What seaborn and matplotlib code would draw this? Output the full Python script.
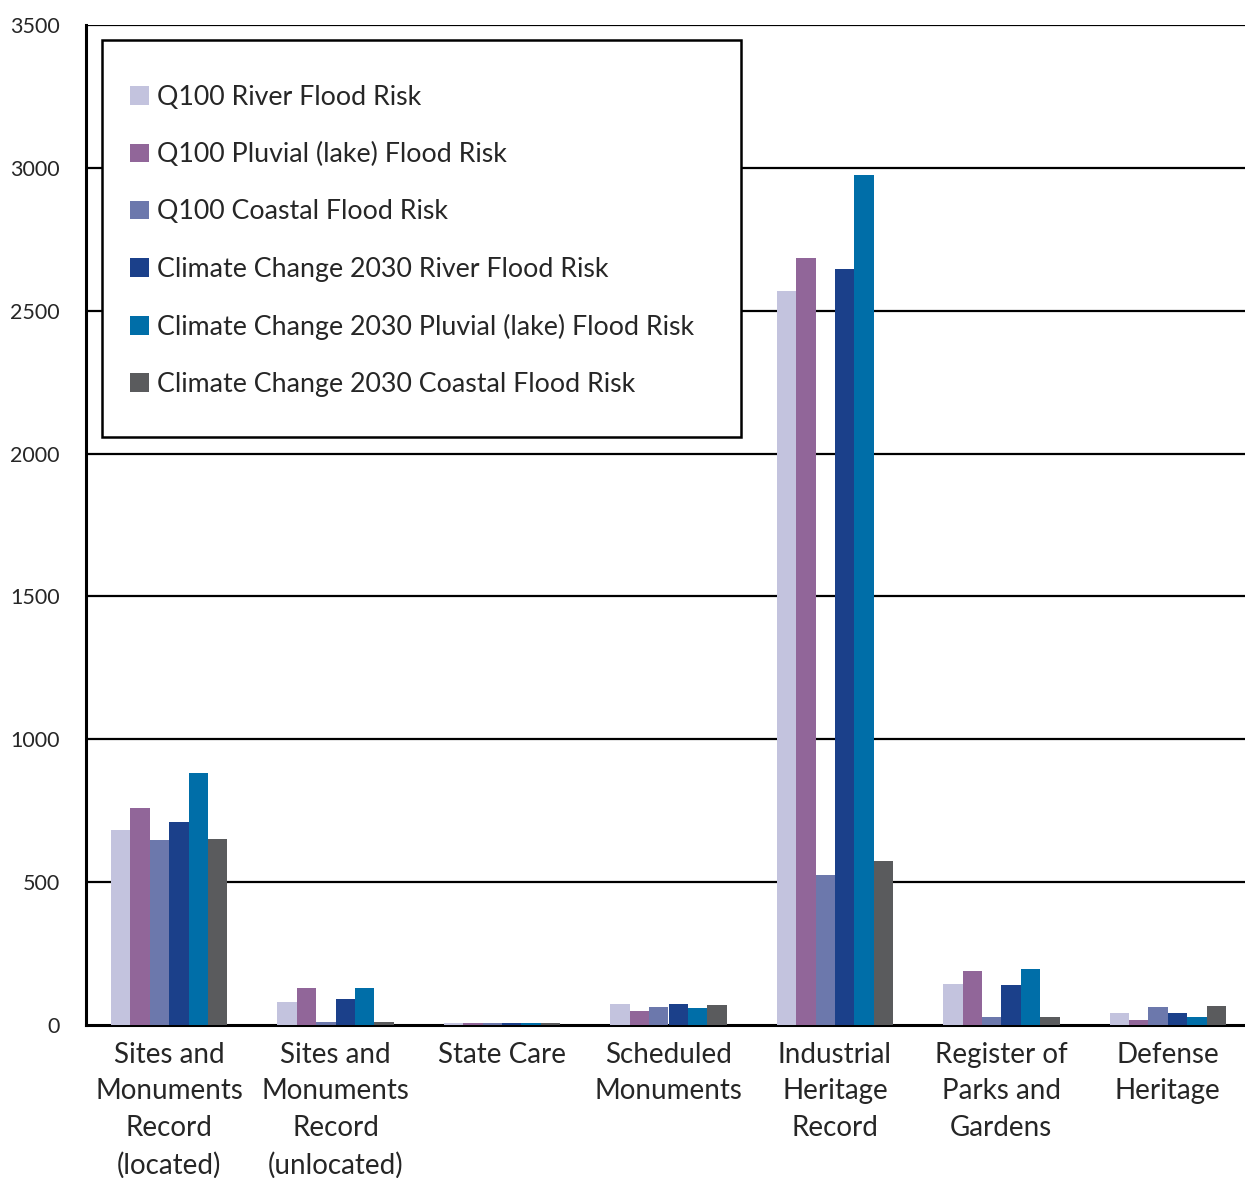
import matplotlib
matplotlib.use("Agg")
import matplotlib.pyplot as plt
import seaborn as sns
import pandas as pd
import numpy as np
from matplotlib.patches import Patch, Rectangle

categories = [
    "Sites and\nMonuments\nRecord\n(located)",
    "Sites and\nMonuments\nRecord\n(unlocated)",
    "State Care",
    "Scheduled\nMonuments",
    "Industrial\nHeritage\nRecord",
    "Register of\nParks and\nGardens",
    "Defense\nHeritage",
]
series_names = [
    "Q100 River Flood Risk",
    "Q100 Pluvial (lake) Flood Risk",
    "Q100 Coastal Flood Risk",
    "Climate Change 2030 River Flood Risk",
    "Climate Change 2030 Pluvial (lake) Flood Risk",
    "Climate Change 2030 Coastal Flood Risk",
]
q100_river = [682, 82, 6, 74, 2569, 144, 42]
q100_pluvial = [760, 130, 7, 49, 2685, 189, 18]
q100_coastal = [648, 12, 6, 63, 525, 28, 63]
cc2030_river = [711, 92, 7, 73, 2646, 140, 42]
cc2030_pluvial = [882, 130, 7, 59, 2975, 196, 28]
cc2030_coastal = [651, 12, 7, 70, 574, 28, 67]
yticks = [0, 500, 1000, 1500, 2000, 2500, 3000, 3500]

colors = ["#C3C3DE", "#916699", "#6C78AC", "#1B408A", "#006EA8", "#5A5B5D"]

series_values = [q100_river, q100_pluvial, q100_coastal,
                 cc2030_river, cc2030_pluvial, cc2030_coastal]
rows = []
for name, vals in zip(series_names, series_values):
    for cat, v in zip(categories, vals):
        rows.append({"category": cat, "series": name, "value": v})
df = pd.DataFrame(rows)

sns.set_style("white")
plt.rcParams["font.family"] = ["Lato", "DejaVu Sans"]

W, H = 1245, 1178
fig = plt.figure(figsize=(W / 100, H / 100), dpi=100)
left, right, top, bottom = 86, 1251, 25, 1025
ax = fig.add_axes([left / W, 1 - bottom / H, (right - left) / W, (bottom - top) / H])

sns.barplot(data=df, x="category", y="value", hue="series", order=categories,
            hue_order=series_names, palette=colors, width=0.7, saturation=1,
            linewidth=0, legend=False, ax=ax, zorder=3)

ax.set_xlim(-0.5, 6.5)
ax.set_ylim(0, 3500)
ax.set_yticks(yticks)
ax.set_yticklabels([str(t) for t in yticks], fontsize=15.5)
ax.set_xlabel("")
ax.set_ylabel("")
ax.set_xticks(range(len(categories)))
ax.set_xticklabels(categories, fontsize=20, linespacing=1.5)
ax.tick_params(axis="x", which="major", length=0, pad=12)
ax.set_xticks(np.arange(-0.5, 6.0, 1.0), minor=True)
ax.tick_params(axis="x", which="minor", length=10, width=2, color="black", direction="out")
ax.tick_params(axis="y", length=5, width=2, color="black", direction="out", pad=14)

for t in yticks[1:]:
    ax.axhline(t, color="black", linewidth=1.6, zorder=1)

for s in ["top", "right"]:
    ax.spines[s].set_visible(False)
for s in ["left", "bottom"]:
    ax.spines[s].set_color("black")
    ax.spines[s].set_linewidth(2.2)

# Legend box: white panel with black border, entries placed inside
box_l, box_t, box_r, box_b = 102, 40, 741, 437
fig.patches.append(Rectangle((box_l / W, 1 - box_b / H), (box_r - box_l) / W,
                             (box_b - box_t) / H, transform=fig.transFigure,
                             facecolor="white", edgecolor="black", linewidth=1.8,
                             zorder=5))
handles = [Patch(facecolor=c, edgecolor="none") for c in colors]
leg = fig.legend(handles, series_names, loc="upper left",
                 bbox_to_anchor=(130 / W, 1 - 85 / H), fontsize=19.3,
                 frameon=False, handlelength=0.7, handleheight=0.7,
                 handletextpad=0.3, labelspacing=1.2, borderpad=0,
                 borderaxespad=0)
leg.set_zorder(6)

fig.savefig("out.png", dpi=100)
